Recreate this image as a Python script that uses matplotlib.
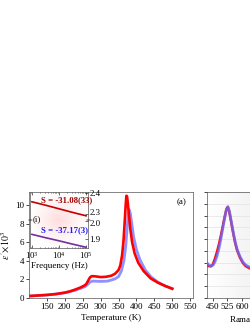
import numpy as np
import matplotlib
matplotlib.use("Agg")
import matplotlib.pyplot as plt
from matplotlib.transforms import ScaledTranslation

plt.rcParams['font.family'] = ['Liberation Serif', 'DejaVu Serif']
plt.rcParams['mathtext.fontset'] = 'stix'
plt.rcParams['font.size'] = 6.5

# main panel (a): permittivity vs temperature
temp_red = [105, 130, 150, 175, 200, 215, 230, 245, 255, 260, 265, 270, 275, 285,
            300, 315, 330, 340, 350, 355, 360, 364, 367, 370, 372, 374, 376, 379,
            383, 388, 395, 405, 420, 440, 460, 480, 500]
eps_red = [0.22, 0.28, 0.33, 0.42, 0.58, 0.72, 0.92, 1.15, 1.35, 1.5, 1.85, 2.2, 2.35, 2.33,
           2.25, 2.28, 2.4, 2.6, 3.0, 3.5, 4.6, 6.2, 8.0, 10.0, 11.0, 10.9, 10.2, 9.0,
           7.4, 6.0, 4.8, 3.8, 2.9, 2.1, 1.65, 1.3, 1.0]
temp_blue = [105, 150, 200, 230, 250, 258, 265, 272, 280, 300, 320, 340, 350, 358,
             365, 370, 374, 377, 380, 383, 387, 392, 400, 410, 425, 440, 460, 480, 500]
eps_blue = [0.22, 0.32, 0.55, 0.85, 1.12, 1.25, 1.5, 1.75, 1.82, 1.78, 1.82, 2.05, 2.3, 2.9,
            4.0, 5.5, 7.5, 9.0, 9.5, 9.1, 8.0, 6.6, 5.2, 4.1, 3.0, 2.3, 1.7, 1.3, 1.0]

# inset (i): permittivity vs frequency
freq = [1e3, 10**3.5, 1e4, 10**4.5, 1e5]
eps_f_red = [2.359, 2.343, 2.326, 2.309, 2.293]
eps_f_purple = [1.926, 1.908, 1.891, 1.873, 1.856]

# panel (b): Raman
raman_shift = [420, 430, 440, 450, 460, 470, 480, 490, 500, 510, 520, 527, 535,
               545, 555, 565, 575, 590, 605, 620, 640, 660]
raman_blue = [0.33, 0.31, 0.30, 0.31, 0.34, 0.39, 0.46, 0.55, 0.65, 0.75, 0.84, 0.86, 0.82,
              0.72, 0.62, 0.53, 0.46, 0.39, 0.34, 0.31, 0.29, 0.28]
raman_red = [0.31, 0.30, 0.30, 0.32, 0.37, 0.43, 0.50, 0.58, 0.67, 0.76, 0.84, 0.86, 0.81,
             0.71, 0.61, 0.52, 0.45, 0.38, 0.33, 0.30, 0.28, 0.27]

W, H = 251, 325
fig = plt.figure(figsize=(W / 100, H / 100), dpi=100)

def box(x0, y0, x1, y1):
    # pixel box (top-left origin) -> figure fraction
    return [x0 / W, 1 - y1 / H, (x1 - x0) / W, (y1 - y0) / H]

def style_spines(a):
    for s in a.spines.values():
        s.set_linewidth(0.5)
        s.set_color('#555555')

ax = fig.add_axes(box(29, 192, 193, 298))
ax.plot(temp_blue, eps_blue, color='#6b6bff', alpha=0.75, lw=2.0, zorder=2)
ax.plot(temp_red, eps_red, color='#ff0000', lw=1.9, zorder=3)
ax.set_xlim(100, 558)
ax.set_ylim(0, 11.4)
ax.set_xticks([150, 200, 250, 300, 350, 400, 450, 500, 550])
ax.set_yticks([0, 2, 4, 6, 8, 10])
ax.tick_params(direction='out', length=2, width=0.5, pad=1.5, labelsize=6.5)
style_spines(ax)
ax.set_xlabel('Temperature (K)', fontsize=6.5, labelpad=2)
ax.set_ylabel(r"$\varepsilon'\!\times\!10^3$", fontsize=7, labelpad=2)
ax.text(0.93, 0.9, '(a)', transform=ax.transAxes, ha='center', va='center', fontsize=6.5)

# inset background gradient
bg = fig.add_axes(box(30, 192, 88, 248), zorder=3)
gx, gy = np.meshgrid(np.linspace(-1, 1, 60), np.linspace(-1, 1, 60))
r = np.clip(np.sqrt(gx ** 2 + gy ** 2), 0, 1)
pink = np.ones((60, 60, 3))
pink[..., 1] = 0.87 + 0.13 * r
pink[..., 2] = 0.87 + 0.13 * r
bg.imshow(pink, extent=[0, 1, 0, 1], aspect='auto')
bg.set_axis_off()

ins_top = fig.add_axes(box(30, 192, 88, 220.7), zorder=4)
ins_bot = fig.add_axes(box(30, 220.7, 88, 248), zorder=4)
ins_top.plot(freq, eps_f_red, color='#c00000', lw=1.2)
ins_bot.plot(freq, eps_f_purple, color='#7030a0', lw=1.2)
for a in (ins_top, ins_bot):
    a.set_facecolor('none')
    a.set_xscale('log')
    a.set_xlim(10 ** 2.93, 10 ** 5.07)
    a.yaxis.tick_right()
    a.tick_params(which='both', direction='in', width=0.4, labelsize=6.3, pad=1)
    a.tick_params(which='major', length=2)
    a.tick_params(which='minor', length=1)
    style_spines(a)
ins_top.set_ylim(2.27, 2.405)
ins_top.set_yticks([2.3, 2.4])
ins_top.spines['bottom'].set_visible(False)
ins_top.tick_params(axis='x', which='both', bottom=False, top=True, labelbottom=False)
ins_bot.set_ylim(1.852, 2.0)
ins_bot.set_yticks([1.9, 2.0])
ins_bot.spines['top'].set_visible(False)
ins_bot.tick_params(axis='x', which='both', top=False, labelbottom=True, pad=1.5)
ins_bot.set_xticks([1e3, 1e4, 1e5])
ins_bot.set_xlabel('Frequency (Hz)', fontsize=6.5, labelpad=0.5)

# pull the two labels at the break apart a little
fig.canvas.draw()
up = ScaledTranslation(0, 1.8 / 72, fig.dpi_scale_trans)
down = ScaledTranslation(0, -1.8 / 72, fig.dpi_scale_trans)
for lab in ins_top.get_yticklabels():
    if lab.get_text().startswith('2.3'):
        lab.set_transform(lab.get_transform() + up)
for lab in ins_bot.get_yticklabels():
    if lab.get_text().startswith('2.0'):
        lab.set_transform(lab.get_transform() + down)

ins_top.text(0.19, 0.72, 'S = -31.08(33)', transform=ins_top.transAxes, color='#a00000',
             fontsize=6.3, fontweight='bold', va='center')
ins_bot.text(0.19, 0.65, 'S = -37.17(3)', transform=ins_bot.transAxes, color='#1a1aff',
             fontsize=6.3, fontweight='bold', va='center')
ins_top.text(0.05, 0.06, '(i)', transform=ins_top.transAxes, fontsize=6.3, va='center')
for xx in (0.0, 1.0):
    ins_bot.text(xx, 1.0, '=', transform=ins_bot.transAxes, fontsize=6, ha='center',
                 va='center', color='#333333')

# Raman panel, runs off the right edge
axr = fig.add_axes(box(207, 192, 323, 298))
gr = np.linspace(1.0, 0.88, 100).reshape(1, -1)
axr.imshow(np.dstack([gr, gr, gr]), extent=[419, 1020, 0, 1], aspect='auto', zorder=0)
axr.plot(raman_shift, raman_red, color='#ff0000', lw=1.8, zorder=2)
axr.plot(raman_shift, raman_blue, color='#6b6bff', alpha=0.8, lw=2.0, zorder=3)
axr.set_xlim(419, 1020)
axr.set_ylim(0, 1)
axr.set_xticks([450, 525, 600, 675, 750, 825, 900, 975])
axr.set_yticks(np.linspace(0, 1, 10))
axr.set_yticklabels([])
axr.grid(axis='y', color='#dddddd', lw=0.4)
axr.tick_params(direction='out', length=2, width=0.5, pad=1.5, labelsize=6.5)
style_spines(axr)
axr.set_xlabel(r'Raman shift (cm$^{-1}$)', fontsize=6.5, labelpad=2)

fig.savefig('out.png', dpi=100)
